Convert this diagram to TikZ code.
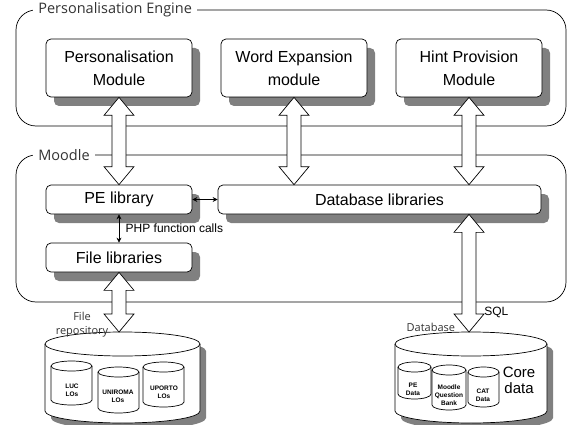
\documentclass[tikz,border=0pt]{standalone}
\usepackage{fontspec}
\setmainfont{Liberation Sans}
\newfontfamily\segfont{Open Sans}
\usetikzlibrary{calc,shadows,arrows.meta}
\definecolor{shadowgray}{gray}{0.5}
\newcommand\fatarrow[2]{%
  \path[fat] let \p1=(#1), \p2=(#2) in
    (\x1,\y1) -- (\x1+15pt,\y1-18pt) -- (\x1+7pt,\y1-18pt) -- (\x1+7pt,\y2+18pt)
    -- (\x1+15pt,\y2+18pt) -- (\x1,\y2) -- (\x1-15pt,\y2+18pt) -- (\x1-7pt,\y2+18pt)
    -- (\x1-7pt,\y1-18pt) -- (\x1-15pt,\y1-18pt) -- cycle;}
\newcommand\cylfill[6][white]{%
  \fill[#1] ({#2-#5},#3) -- ({#2-#5},#4) arc[start angle=180,end angle=0,x radius=#5,y radius=#6]
    -- ({#2+#5},#3) arc[start angle=0,end angle=-180,x radius=#5,y radius=#6] -- cycle;}
\newcommand\drawcyl[5]{%
  \cylfill{#1}{#2}{#3}{#4}{#5}%
  \draw ({#1-#4},#2) -- ({#1-#4},#3) arc[start angle=180,end angle=0,x radius=#4,y radius=#5] -- ({#1+#4},#2);
  \draw (#1,#2) ellipse[x radius=#4,y radius=#5];}
\begin{document}
\begin{tikzpicture}[x=1pt,y=-1pt,line width=0.7pt,
  modbox/.style={draw,fill=white,rounded corners=5pt,minimum width=146pt,align=center,
    inner sep=0pt,font=\fontsize{16}{23}\selectfont,
    drop shadow={shadow xshift=8pt,shadow yshift=-9pt,fill=shadowgray,opacity=1}},
  grp/.style={draw,rounded corners=20pt},
  grplabel/.style={fill=white,anchor=west,inner xsep=5pt,inner ysep=1pt,text=black!80,
    font=\segfont\fontsize{14.5}{16}\selectfont},
  fat/.style={draw,fill=white,line width=0.7pt,line join=miter},
  small/.style={{Stealth[length=5pt,width=5pt]}-{Stealth[length=5pt,width=5pt]}},
  tiny/.style={font=\bfseries\fontsize{6.5}{8}\selectfont,align=center,inner sep=0pt},
  note/.style={text=black!80,font=\segfont\fontsize{11}{14}\selectfont,align=center},
]
\useasboundingbox (0,0) rectangle (567,425);
% group frames
\draw[grp] (16,10) rectangle (566,126);
\node[grplabel] (pelab) at (33,10) {Personalisation Engine};
\draw[grp] (16,155) rectangle (566,302);
\node[grplabel] (mdlab) at (33,155) {Moodle};
% boxes
\node[modbox,minimum height=58pt] (pm) at (119,68) {Personalisation\\Module};
\node[modbox,minimum height=58pt] (we) at (294,68) {Word Expansion\\module};
\node[modbox,minimum height=58pt] (hp) at (469,68) {Hint Provision\\Module};
\node[modbox,minimum height=29pt] (pel) at (119,199.5) {PE library};
\node[modbox,minimum height=29pt,minimum width=323pt] (dbl) at (379.5,199.5) {Database libraries};
\node[modbox,minimum height=29pt] (fl) at (119,257.5) {File libraries};
% small arrows
\draw[small] (pel.east) -- (dbl.west);
\draw[small] (pel.south) -- node[right,xshift=3pt,font=\fontsize{12}{14}\selectfont] (php) {PHP function calls} (fl.north);
% cylinders: shadows
\begin{scope}[shift={(6,7)}]
  \cylfill[shadowgray]{122.5}{344}{411}{77.5}{12}
  \cylfill[shadowgray]{471}{344}{411}{76}{12}
\end{scope}
\drawcyl{122.5}{344}{411}{77.5}{12}
\drawcyl{471}{344}{411}{76}{12}
% inner cylinders
\drawcyl{71.5}{366}{400}{20.5}{5}
\drawcyl{118.5}{372}{408}{20.5}{5}
\drawcyl{163.5}{367}{402}{20.5}{5}
\drawcyl{414.5}{367}{394}{16.5}{5}
\drawcyl{449}{370}{405}{17}{5}
\drawcyl{483.5}{372}{402}{15.5}{5}
\node[tiny] (luc) at (72,390) {LUC\\LOs};
\node[tiny] (uni) at (118,396) {UNIROMA\\LOs};
\node[tiny] (upo) at (164,392) {UPORTO\\LOs};
\node[tiny] (ped) at (413,389.5) {PE\\Data};
\node[tiny] (mqb) at (449,395) {Moodle\\Question\\Bank};
\node[tiny] (cat) at (483,395) {CAT\\Data};
\node[font=\fontsize{15}{16}\selectfont,align=center] (core) at (519,380) {Core\\data};
\node[note] (frlab) at (82,325) {File\\repository};
\node[note,anchor=west] (dblab) at (403,327) {Database};
\node[font=\fontsize{12}{14}\selectfont,anchor=west,inner sep=1pt] (sql) at (483,312) {SQL};
\coordinate (frtop) at (119,332);
\coordinate (dbtop) at (469,332);
% fat arrows
\fatarrow{pm.south}{pel.north}
\fatarrow{we.south}{we.south |- dbl.north}
\fatarrow{hp.south}{hp.south |- dbl.north}
\fatarrow{fl.south}{frtop}
\fatarrow{hp.south |- dbl.south}{dbtop}
\end{tikzpicture}
\end{document}
